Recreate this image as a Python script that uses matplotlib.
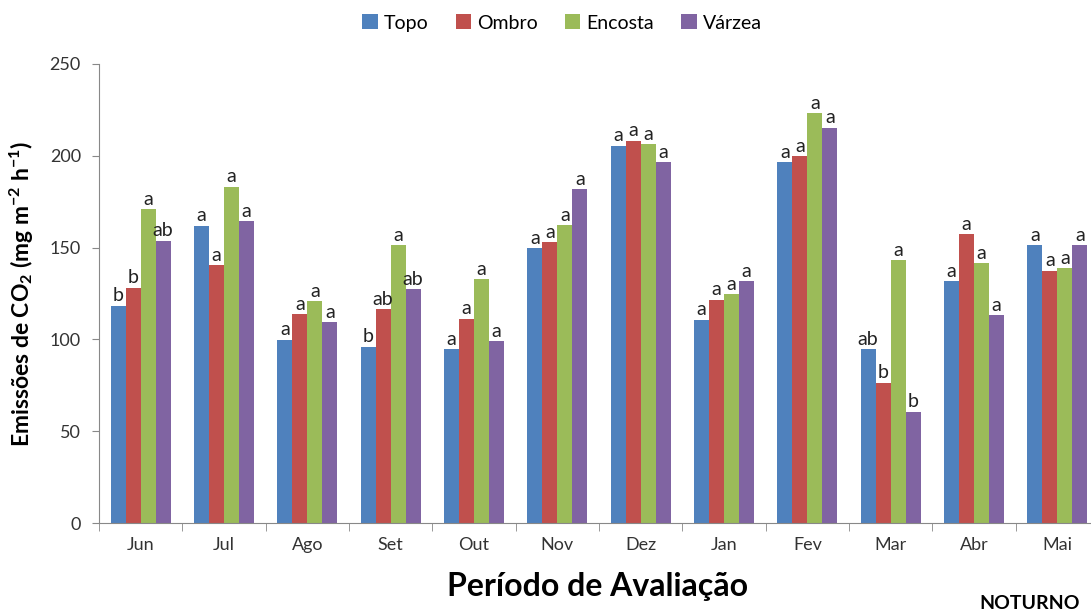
import numpy as np
import matplotlib
matplotlib.use("Agg")
import matplotlib.pyplot as plt

plt.rcParams['font.family'] = ['Lato', 'DejaVu Sans']
plt.rcParams['mathtext.default'] = 'regular'

# data
months = ["Jun", "Jul", "Ago", "Set", "Out", "Nov", "Dez", "Jan", "Fev", "Mar", "Abr", "Mai"]
series = ["Topo", "Ombro", "Encosta", "Várzea"]
topo = [118.4, 161.9, 99.7, 96.0, 94.6, 149.6, 205.5, 110.6, 196.4, 94.6, 131.8, 151.4]
ombro = [128.2, 140.3, 113.8, 116.4, 111.3, 152.9, 208.1, 121.5, 199.9, 76.4, 157.4, 137.4]
encosta = [170.8, 183.2, 120.9, 151.2, 132.9, 162.3, 206.4, 124.6, 223.1, 143.1, 141.4, 138.7]
varzea = [153.8, 164.5, 109.3, 127.4, 99.1, 181.7, 196.5, 131.8, 215.4, 60.6, 113.1, 151.4]
letters_topo = ["b", "a", "a", "b", "a", "a", "a", "a", "a", "ab", "a", "a"]
letters_ombro = ["b", "a", "a", "ab", "a", "a", "a", "a", "a", "b", "a", "a"]
letters_encosta = ["a", "a", "a", "a", "a", "a", "a", "a", "a", "a", "a", "a"]
letters_varzea = ["ab", "a", "a", "ab", "a", "a", "a", "a", "a", "b", "a", "a"]

colors = ["#4F81BD", "#C0504D", "#9BBB59", "#8064A2"]
values = [topo, ombro, encosta, varzea]
letters = [letters_topo, letters_ombro, letters_encosta, letters_varzea]

fig = plt.figure(figsize=(10.91, 6.13), dpi=100)
ax = fig.add_axes([99/1091, 90/613, 1000/1091, 459/613])

x = np.arange(len(months))
w = 0.18
for i in range(4):
    pos = x + (i - 1.5) * w
    ax.bar(pos, values[i], width=w, color=colors[i], label=series[i], linewidth=0)
    for p, v, t in zip(pos, values[i], letters[i]):
        ax.text(p, v + 0.8, t, ha="center", va="bottom", fontsize=14, color="#222222")

ax.set_xlim(-0.5, 11.5)
ax.set_ylim(0, 250)
ax.set_yticks([0, 50, 100, 150, 200, 250])
ax.set_xticks(x)
ax.set_xticklabels(months)
ax.set_xticks(np.arange(-0.5, 12, 1), minor=True)
ax.tick_params(axis="x", which="major", length=0, pad=10, labelsize=13, colors="#333333")
ax.tick_params(axis="x", which="minor", length=6, direction="out", color="#888888")
ax.tick_params(axis="y", length=5, color="#888888", labelsize=13, labelcolor="#333333", pad=8)
for s in ["top", "right"]:
    ax.spines[s].set_visible(False)
for s in ["left", "bottom"]:
    ax.spines[s].set_color("#888888")

ax.set_ylabel("Emissões de CO$_2$ (mg m$^{-2}$ h$^{-1}$)", fontsize=16.5, fontweight="bold", labelpad=10)
fig.text(0.548, 0.043, "Período de Avaliação", ha="center", va="center", fontsize=23, fontweight="bold")
fig.text(0.944, 0.015, "NOTURNO", ha="center", va="center", fontsize=14, fontweight="bold")

fig.legend(loc="upper center", bbox_to_anchor=(0.515, 1.005), ncol=4, frameon=False,
           handlelength=0.8, handleheight=0.8, handletextpad=0.3, columnspacing=1.4, fontsize=14)

fig.savefig("out.png", dpi=100)
